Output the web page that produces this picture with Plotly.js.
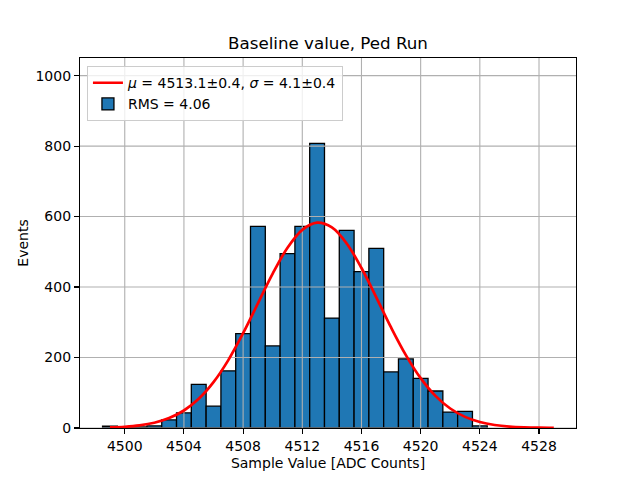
<!DOCTYPE html>
<html>
<head>
<meta charset="utf-8">
<script src="https://cdn.plot.ly/plotly-3.0.1.min.js"></script>
<style>html,body{margin:0;padding:0;background:#fff;}#chart{width:640px;height:480px;}</style>
</head>
<body>
<div id="chart"></div>
<script>
// Histogram bins (centers, ADC counts) and counts
const binCenters = [4499,4500,4501,4502,4503,4504,4505,4506,4507,4508,4509,4510,4511,4512,4513,4514,4515,4516,4517,4518,4519,4520,4521,4522,4523,4524];
const binCounts  = [5,2,3,6,23,43,124,62,162,268,572,233,495,572,808,312,561,444,510,159,196,141,105,45,47,6];

// Gaussian fit curve
const fitX = [4499,4500,4501,4502,4503,4504,4505,4506,4507,4508,4509,4510,4511,4512,4513,4514,4515,4516,4517,4518,4519,4520,4521,4522,4523,4524,4525,4526,4527,4528,4529];
const fitY = [1.6,3.5,7.5,14.9,28.1,49.7,82.8,130.1,192.7,268.9,353.6,438.1,511.4,562.4,582.8,569.1,523.7,454.0,370.9,285.4,207.0,141.4,91.1,55.3,31.6,17.0,8.6,4.1,1.9,0.8,0.3];

const xTicks = [4500,4504,4508,4512,4516,4520,4524,4528];
const yTicks = [0,200,400,600,800,1000];

const fitLabel = '<i>μ</i> = 4513.1±0.4, <i>σ</i> = 4.1±0.4';
const histLabel = 'RMS = 4.06';
const titleText = 'Baseline value, Ped Run';
const xTitle = 'Sample Value [ADC Counts]';
const yTitle = 'Events';

const xRange = [4496.975, 4530.5];
const yRange = [0, 1050];

// grid lines drawn between bars and curve (matplotlib z-order)
const gx = [], gy = [];
xTicks.forEach(t => { gx.push(t, t, null); gy.push(yRange[0], yRange[1], null); });
yTicks.forEach(t => { gx.push(xRange[0], xRange[1], null); gy.push(t, t, null); });

const font = 'DejaVu Sans, sans-serif';

const traces = [
  {
    type: 'bar', x: binCenters, y: binCounts, width: 1,
    name: histLabel, legendrank: 2,
    marker: {color: '#1f77b4', line: {color: '#000000', width: 1.3}},
    hoverinfo: 'skip'
  },
  {
    type: 'scatter', mode: 'lines', x: gx, y: gy, showlegend: false,
    line: {color: '#b0b0b0', width: 1.1}, hoverinfo: 'skip', connectgaps: false
  },
  {
    type: 'scatter', mode: 'lines', x: fitX, y: fitY,
    name: fitLabel, legendrank: 1,
    line: {color: '#ff0000', width: 2.7, shape: 'spline'},
    hoverinfo: 'skip'
  }
];

const layout = {
  width: 640, height: 480,
  margin: {l: 80, r: 64, t: 58, b: 52, pad: 0},
  paper_bgcolor: '#ffffff', plot_bgcolor: '#ffffff',
  font: {family: font, size: 14, color: '#000000'},
  title: {text: titleText, font: {family: font, size: 16.7, color: '#000'}, x: 0.5125, xanchor: 'center', y: 0.91, yanchor: 'middle'},
  bargap: 0,
  showlegend: true,
  legend: {
    x: 0.014, y: 0.978, xanchor: 'left', yanchor: 'top',
    bgcolor: 'rgba(255,255,255,0.8)', bordercolor: '#cccccc', borderwidth: 1,
    font: {family: font, size: 14, color: '#000'},
    traceorder: 'normal', tracegroupgap: 0
  },
  xaxis: {
    range: xRange, tickvals: xTicks, ticktext: xTicks.map(String),
    showgrid: false, zeroline: false,
    showline: true, linecolor: '#000', linewidth: 1.1, mirror: true,
    ticks: 'outside', ticklen: 5, tickcolor: '#000', tickwidth: 1.1,
    tickfont: {family: font, size: 14, color: '#000'},
    title: {text: xTitle, font: {family: font, size: 14, color: '#000'}, standoff: 5}
  },
  yaxis: {
    range: yRange, tickvals: yTicks, ticktext: yTicks.map(String),
    showgrid: false, zeroline: false,
    showline: true, linecolor: '#000', linewidth: 1.1, mirror: true,
    ticks: 'outside', ticklen: 5, tickcolor: '#000', tickwidth: 1.1,
    tickfont: {family: font, size: 14, color: '#000'},
    title: {text: yTitle, font: {family: font, size: 14, color: '#000'}, standoff: 3}
  }
};

Plotly.newPlot('chart', traces, layout, {displayModeBar: false, staticPlot: true});
</script>
</body>
</html>
